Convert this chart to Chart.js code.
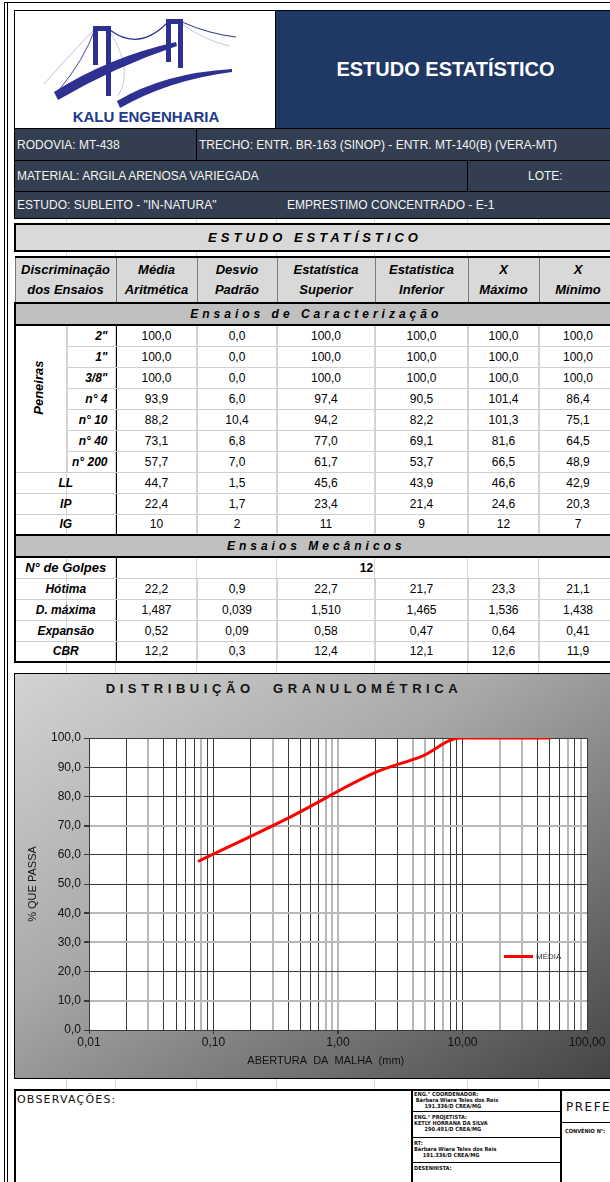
<!DOCTYPE html>
<html lang="pt-BR">
<head>
<meta charset="utf-8">
<title>Estudo Estatístico</title>
<script src="https://cdn.jsdelivr.net/npm/chart.js@4.4.1/dist/chart.umd.min.js"></script>
<style>
html, body { margin: 0; padding: 0; background: #fff; }
body { width: 610px; height: 1182px; overflow: hidden; position: relative; font-family: "Liberation Sans", Arial, sans-serif; }
.abs { position: absolute; box-sizing: border-box; }
.vline { position: absolute; width: 1px; background: #d6d6d6; }
.frame { position: absolute; width: 1px; top: 2px; bottom: 0; background: #000; }
.bar { position: absolute; left: 14px; width: 602px; background: #333f50; color: #f4f4f4; font-size: 12px; border: 1px solid #000; box-sizing: border-box; }
.bar span { position: absolute; top: 50%; transform: translateY(-50%); white-space: nowrap; }
.bar i { position: absolute; top: 0; bottom: 0; width: 1px; background: #000; }
.spaced { font-weight: bold; font-style: italic; font-size: 13px; letter-spacing: 4px; }

#stats { position: absolute; left: 14px; top: 256px; width: 602px; border-collapse: collapse; table-layout: fixed; }
#stats td { padding: 0; text-align: center; font-size: 12px; border: 1px solid #cfcfcf; white-space: nowrap; height: 21px; box-sizing: border-box; }
#stats tr.head td { height: 46px; background: #d9d9d9; font-weight: bold; font-style: italic; font-size: 13px; line-height: 20px; border: 1px solid #7a7a7a; border-top: 2px solid #000; }
#stats tr.strip td { height: 22px; background: #c0c0c0; border-top: 2px solid #000; border-bottom: 2px solid #000; }
#stats td.lab { font-weight: bold; font-style: italic; font-size: 12px; border-right: 1px solid #000; }
#stats td.sieve { text-align: right; padding-right: 8px; }
#stats td.pen { border-right: 1px solid #d0d0d0; }
#stats td.pen div { transform: rotate(-90deg) translateX(9px) translateY(-3px); font-weight: bold; font-style: italic; font-size: 13px; white-space: nowrap; }
#stats tr.last td { border-bottom: 2px solid #000; }
#stats td.edge { border-left: 2px solid #000; }

#chartBox { left: 14px; top: 673px; width: 602px; height: 406px; border: 1px solid #000; background: linear-gradient(to bottom right, #d3d3d3 0%, #a9a9a9 40%, #777 70%, #444 100%); }
#chartTitle { left: 14px; top: 681px; width: 540px; text-align: center; font-weight: bold; font-size: 13px; letter-spacing: 4.6px; word-spacing: 10px; color: #111; }
#chartWrap { left: 14px; top: 673px; width: 596px; height: 406px; }
#legend { left: 504px; top: 950px; height: 12px; font-size: 8px; color: #333; display: flex; align-items: center; }
#legend b { display: inline-block; width: 29px; height: 3px; margin-right: 3px; }

.cad { font-family: "DejaVu Sans Condensed", "DejaVu Sans", sans-serif; font-weight: bold; font-size: 5.6px; line-height: 6px; color: #111; white-space: nowrap; }
</style>
</head>
<body>

<!-- page frame and faint sheet gridlines -->
<div class="frame" style="left:4px"></div>
<div class="frame" style="left:7px"></div>
<div class="abs" style="left:4px;top:2px;width:606px;height:1px;background:#000"></div>
<div id="gridlines"></div>

<!-- header -->
<div class="abs" style="left:14px;top:10px;width:262px;height:119px;background:#fff;border:1px solid #000;">
  <svg width="262" height="118" viewBox="0 0 262 118" style="position:absolute;left:-1px;top:-1px">
    <g stroke="#2e3192" fill="none">
      <path d="M45 80 Q70 50 81 19" stroke-width="0.9"/>
      <path d="M30 74 Q60 40 81 19" stroke-width="0.6" stroke="#8c8fc8"/>
      <path d="M96 20 Q125 42 154 12" stroke-width="1.1"/>
      <path d="M96 22 Q120 60 104 86" stroke-width="0.5" stroke="#8c8fc8"/>
      <path d="M168 12 Q195 24 222 27" stroke-width="1"/>
      <path d="M168 14 Q190 30 215 36" stroke-width="0.5" stroke="#8c8fc8"/>
    </g>
    <g fill="#2e3192">
      <rect x="79" y="17" width="5" height="38"/>
      <rect x="92" y="17" width="5" height="69"/>
      <rect x="79" y="16" width="18" height="5"/>
      <rect x="152" y="10" width="5" height="42"/>
      <rect x="164" y="10" width="5" height="48"/>
      <rect x="152" y="9" width="17" height="5"/>
      <path d="M40 82 Q95 47 162 32 L163 36 Q100 57 44 90 Z"/>
      <path d="M103 91 Q150 63 218 59 L218 62 Q155 70 106 98 Z"/>
    </g>
    <text x="132" y="112" text-anchor="middle" font-family="Liberation Sans, Arial, sans-serif" font-weight="bold" font-size="15" fill="#203a8c">KALU ENGENHARIA</text>
  </svg>
</div>
<div class="abs" style="left:275px;top:10px;width:341px;height:119px;background:#203864;border:1px solid #000;color:#fff;font-weight:bold;font-size:20px;display:flex;align-items:center;justify-content:center;">ESTUDO ESTATÍSTICO</div>

<div class="bar" style="top:128px;height:33px;"><span style="left:2px">RODOVIA: MT-438</span><i style="left:181px"></i><span style="left:184px">TRECHO: ENTR. BR-163 (SINOP) - ENTR. MT-140(B) (VERA-MT)</span></div>
<div class="bar" style="top:160px;height:32px;"><span style="left:2px">MATERIAL: ARGILA ARENOSA VARIEGADA</span><i style="left:452px"></i><span style="left:513px">LOTE:</span></div>
<div class="bar" style="top:191px;height:28px;"><span style="left:2px">ESTUDO: SUBLEITO - "IN-NATURA"</span><span style="left:272px">EMPRESTIMO CONCENTRADO - E-1</span></div>

<!-- statistics table -->
<div class="abs spaced" style="left:14px;top:223px;width:602px;height:29px;background:#d9d9d9;border:2px solid #000;display:flex;align-items:center;justify-content:center;">ESTUDO ESTATÍSTICO</div>
<table id="stats"></table>

<!-- chart -->
<div class="abs" id="chartBox"></div>
<div class="abs" id="chartTitle">DISTRIBUIÇÃO GRANULOMÉTRICA</div>
<div class="abs" id="chartWrap"><canvas id="granChart" width="596" height="406"></canvas></div>
<div class="abs" id="legend"></div>

<!-- footer -->
<div class="abs" style="left:14px;top:1089px;width:602px;height:100px;border-top:2px solid #000;border-left:2px solid #000;"></div>
<div class="abs" style="left:17px;top:1093px;font-family:'DejaVu Sans',sans-serif;font-size:11px;letter-spacing:1.2px;color:#111;">OBSERVAÇÕES:</div>
<div class="abs" style="left:411px;top:1090px;width:151px;height:92px;border-left:2px solid #000;border-right:2px solid #000;"></div>
<div class="abs" style="left:411px;top:1111px;width:151px;height:1px;background:#000"></div>
<div class="abs" style="left:411px;top:1137px;width:151px;height:1px;background:#000"></div>
<div class="abs" style="left:411px;top:1162px;width:151px;height:1px;background:#000"></div>
<div class="abs cad" style="left:414px;top:1091px;">ENG.° COORDENADOR:<br>&nbsp;Bárbara Wiara Teles dos Reis<br>&nbsp;&nbsp;&nbsp;&nbsp;&nbsp;&nbsp;191.336/D CREA/MG</div>
<div class="abs cad" style="left:414px;top:1114px;">ENG.° PROJETISTA:<br>KETLY HORRANA DA SILVA<br>&nbsp;&nbsp;&nbsp;&nbsp;&nbsp;&nbsp;290.491/D CREA/MG</div>
<div class="abs cad" style="left:414px;top:1140px;">RT:<br>Bárbara Wiara Teles dos Reis<br>&nbsp;&nbsp;&nbsp;&nbsp;&nbsp;191.336/D CREA/MG</div>
<div class="abs cad" style="left:414px;top:1165px;">DESENHISTA:</div>
<div class="abs" style="left:566px;top:1100px;font-family:'DejaVu Sans',sans-serif;font-size:12px;letter-spacing:1.5px;color:#111;">PREFE</div>
<div class="abs" style="left:562px;top:1122px;width:48px;height:1px;background:#000"></div>
<div class="abs cad" style="left:565px;top:1128px;">CONVÊNIO N°:</div>

<script>
// sieve analysis (mean of the samples) - plotted on the chart
const sieveLabels = ['2"', '1"', '3/8"', 'n° 4', 'n° 10', 'n° 40', 'n° 200'];
const sieveOpeningMm = [50.8, 25.4, 9.5, 4.8, 2.0, 0.42, 0.075];
const meanPassing = [100.0, 100.0, 100.0, 93.9, 88.2, 73.1, 57.7];
const stdDevPassing = [0.0, 0.0, 0.0, 6.0, 10.4, 6.8, 7.0];
const upperPassing = [100.0, 100.0, 100.0, 97.4, 94.2, 77.0, 61.7];
const lowerPassing = [100.0, 100.0, 100.0, 90.5, 82.2, 69.1, 53.7];
const maxPassing = [100.0, 100.0, 100.0, 101.4, 101.3, 81.6, 66.5];
const minPassing = [100.0, 100.0, 100.0, 86.4, 75.1, 64.5, 48.9];

// other rows of the table, already formatted as printed
const limitRows = [
    ['LL', '44,7', '1,5', '45,6', '43,9', '46,6', '42,9'],
    ['IP', '22,4', '1,7', '23,4', '21,4', '24,6', '20,3'],
    ['IG', '10', '2', '11', '9', '12', '7']
];
const blowCount = '12';
const mechanicalRows = [
    ['Hótima', '22,2', '0,9', '22,7', '21,7', '23,3', '21,1'],
    ['D. máxima', '1,487', '0,039', '1,510', '1,465', '1,536', '1,438'],
    ['Expansão', '0,52', '0,09', '0,58', '0,47', '0,64', '0,41'],
    ['CBR', '12,2', '0,3', '12,4', '12,1', '12,6', '11,9']
];
const columnHeaders = ['Média<br>Aritmética', 'Desvio<br>Padrão', 'Estatística<br>Superior', 'Estatistica<br>Inferior', 'X<br>Máximo', 'X<br>Mínimo'];

// axis ticks
const xDecades = [0.01, 0.1, 1, 10, 100];
const xTickLabels = ['0,01', '0,10', '1,00', '10,00', '100,00'];
const yTickLabels = ['0,0', '10,0', '20,0', '30,0', '40,0', '50,0', '60,0', '70,0', '80,0', '90,0', '100,0'];

// faint spreadsheet lines between the blocks
const sheetCols = [66, 115, 196, 276, 374, 467, 538];
document.getElementById('gridlines').innerHTML = sheetCols
    .map(x => `<div class="vline" style="left:${x}px;top:218px;height:872px"></div>`).join('');

// build the table
const fmt = v => v.toFixed(1).replace('.', ',');
const colWidths = [52, 49, 81, 80, 98, 93, 71, 78];
let html = '<colgroup>' + colWidths.map(w => `<col style="width:${w}px">`).join('') + '</colgroup>';
html += '<tr class="head"><td colspan="2" class="edge">Discriminação<br>dos Ensaios</td>' +
    columnHeaders.map(h => `<td>${h}</td>`).join('') + '</tr>';
html += '<tr class="strip"><td colspan="8" class="spaced edge">Ensaios de Caracterização</td></tr>';
sieveLabels.forEach((label, i) => {
    html += '<tr>';
    if (i === 0) html += `<td class="pen edge" rowspan="${sieveLabels.length}"><div>Peneiras</div></td>`;
    html += `<td class="lab sieve">${label}</td>`;
    [meanPassing, stdDevPassing, upperPassing, lowerPassing, maxPassing, minPassing]
        .forEach(arr => { html += `<td>${fmt(arr[i])}</td>`; });
    html += '</tr>';
});
limitRows.forEach(row => {
    html += `<tr><td colspan="2" class="lab edge">${row[0]}</td>` + row.slice(1).map(v => `<td>${v}</td>`).join('') + '</tr>';
});
html += '<tr class="strip"><td colspan="8" class="spaced edge">Ensaios Mecânicos</td></tr>';
html += `<tr><td colspan="2" class="lab edge" style="font-size:13px">N° de Golpes</td><td colspan="6" style="font-weight:bold">${blowCount}</td></tr>`;
mechanicalRows.forEach((row, r) => {
    const cls = r === mechanicalRows.length - 1 ? ' class="last"' : '';
    html += `<tr${cls}><td colspan="2" class="lab edge">${row[0]}</td>` + row.slice(1).map(v => `<td>${v}</td>`).join('') + '</tr>';
});
document.getElementById('stats').innerHTML = html;

// grid line shades as they print in the original sheet (D = dark, G = light)
const xGridShade = 'DDGDDDDGD' + 'DDGDDDDGG' + 'GDDGGDGDD' + 'DGGDDDGDG' + 'D';
const yGridShade = 'DGDGGDDGDDD';
const shadeColor = s => s === 'D' ? '#3a3a3a' : '#b8b8b8';
const shadeWidth = s => s === 'D' ? 1 : 2;

const dark = '#3a3a3a';
const chart = new Chart(document.getElementById('granChart'), {
    type: 'line',
    data: {
        datasets: [{
            label: 'MÉDIA',
            data: sieveOpeningMm.map((x, i) => ({ x: x, y: meanPassing[i] })),
            borderColor: '#ff0000',
            backgroundColor: '#ff0000',
            borderWidth: 3,
            pointRadius: 0,
            fill: false,
            cubicInterpolationMode: 'monotone'
        }]
    },
    options: {
        responsive: false,
        animation: false,
        devicePixelRatio: 1,
        layout: { padding: { top: 65, right: 23, left: 0, bottom: 0 } },
        plugins: {
            legend: { display: false },
            tooltip: { enabled: false }
        },
        scales: {
            x: {
                type: 'logarithmic',
                min: 0.01,
                max: 100,
                afterBuildTicks: (axis) => {
                    const ticks = [];
                    xDecades.forEach((d, i) => {
                        if (i === xDecades.length - 1) {
                            ticks.push({ value: d });
                        } else {
                            for (let k = 1; k < 10; k++) ticks.push({ value: Number((d * k).toPrecision(3)) });
                        }
                    });
                    axis.ticks = ticks;
                },
                afterFit: (axis) => { axis.height = 49; },
                ticks: {
                    autoSkip: false,
                    maxRotation: 0,
                    padding: 1,
                    color: '#111',
                    font: { family: 'Liberation Sans', size: 12 },
                    callback: (value) => {
                        const i = xDecades.indexOf(value);
                        return i >= 0 ? xTickLabels[i] : '';
                    }
                },
                grid: {
                    color: (ctx) => shadeColor(xGridShade[ctx.index]),
                    lineWidth: (ctx) => shadeWidth(xGridShade[ctx.index]),
                    tickLength: 4,
                    tickColor: (ctx) => ctx.tick && xDecades.includes(ctx.tick.value) ? dark : 'rgba(0,0,0,0)'
                },
                border: { color: dark, width: 1 },
                title: {
                    display: true,
                    // trailing spaces nudge the centred title left, as in the original
                    text: 'ABERTURA  DA  MALHA  (mm)        ',
                    color: '#111',
                    font: { family: 'Liberation Sans', size: 11 },
                    padding: { top: 0, bottom: 11 }
                }
            },
            y: {
                min: 0,
                max: 100,
                ticks: {
                    stepSize: 10,
                    padding: 3,
                    color: '#111',
                    font: { family: 'Liberation Sans', size: 12 },
                    callback: (value, index) => yTickLabels[index]
                },
                afterFit: (axis) => { axis.width = 75; },
                grid: {
                    color: (ctx) => shadeColor(yGridShade[ctx.index]),
                    lineWidth: (ctx) => shadeWidth(yGridShade[ctx.index]),
                    tickLength: 5,
                    tickColor: dark
                },
                border: { color: dark, width: 1 },
                title: {
                    display: true,
                    text: '% QUE PASSA',
                    color: '#111',
                    font: { family: 'Liberation Sans', size: 11 },
                    padding: { top: 12, bottom: 0 }
                }
            }
        }
    },
    plugins: [{
        id: 'whitePlot',
        beforeDraw: (c) => {
            const a = c.chartArea;
            c.ctx.save();
            c.ctx.fillStyle = '#fff';
            c.ctx.fillRect(a.left, a.top, a.right - a.left, a.bottom - a.top);
            c.ctx.restore();
        }
    }]
});

// legend, placed inside the plot like the original
const ds = chart.data.datasets[0];
document.getElementById('legend').innerHTML = `<b style="background:${ds.borderColor}"></b>${ds.label}`;
</script>
</body>
</html>
